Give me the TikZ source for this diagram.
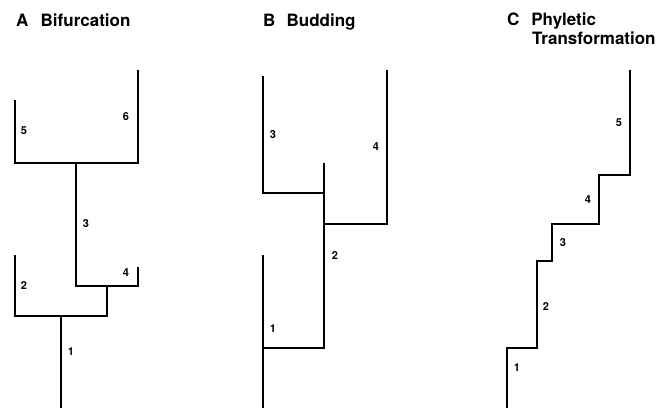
\documentclass[tikz,border=0pt]{standalone}
\usepackage{fontspec}
\setmainfont{TeX Gyre Heros}
\begin{document}
\begin{tikzpicture}[x=1pt,y=-1pt,
  branch/.style={line width=1.7pt,line cap=butt,line join=miter},
  title/.style={anchor=base west,inner sep=0pt,font=\fontsize{17}{20}\selectfont\bfseries},
  num/.style={inner sep=0pt,font=\fontsize{11}{13}\selectfont\bfseries}]
\useasboundingbox (0,0) rectangle (667,408);
% Titles
\node[title] (tA) at (16,26) {A\hspace{0.72em}Bifurcation};
\node[title] (tB) at (263,26) {B\hspace{0.66em}Budding};
\node[title] (tC) at (507,25) {C\hspace{0.7em}Phyletic};
\node[title] (tC2) at (532,44) {Transformation};
% Panel A
\coordinate (a5t) at (15,100);
\coordinate (a5b) at (15,163);
\coordinate (a6t) at (138,70);
\coordinate (a6b) at (138,163);
\coordinate (a3t) at (76,163);
\coordinate (a3b) at (76,286);
\coordinate (a4t) at (138,267);
\coordinate (a4b) at (138,286);
\coordinate (ajt) at (107,286);
\coordinate (ajb) at (107,316);
\coordinate (a2t) at (15,255);
\coordinate (a2b) at (15,316);
\coordinate (a1t) at (61,316);
\coordinate (a1b) at (61,408);
\draw[branch] (a5t) -- (a5b) -- (a6b) -- (a6t);
\draw[branch] (a3t) -- (a3b) -- (a4b) -- (a4t);
\draw[branch] (ajt) -- (ajb) -- (a2b) -- (a2t);
\draw[branch] (a1t) -- (a1b);
\node[num] (la5) at (24,131) {5};
\node[num] (la6) at (126,117) {6};
\node[num] (la3) at (86,224) {3};
\node[num] (la4) at (126,273) {4};
\node[num] (la2) at (24,286) {2};
\node[num] (la1) at (71,352) {1};
% Panel B
\coordinate (b3t) at (263,76);
\coordinate (b3b) at (263,193);
\coordinate (b2t) at (324,163);
\coordinate (b2j) at (324,193);
\coordinate (b2m) at (324,224);
\coordinate (b2b) at (324,348);
\coordinate (b4t) at (387,70);
\coordinate (b4b) at (387,224);
\coordinate (b1t) at (263,255);
\coordinate (b1m) at (263,348);
\coordinate (b1b) at (263,408);
\draw[branch] (b3t) -- (b3b) -- (b2j);
\draw[branch] (b2t) -- (b2b) -- (b1m);
\draw[branch] (b2m) -- (b4b) -- (b4t);
\draw[branch] (b1t) -- (b1b);
\node[num] (lb3) at (273,135) {3};
\node[num] (lb4) at (376,147) {4};
\node[num] (lb2) at (335,256) {2};
\node[num] (lb1) at (273,329) {1};
% Panel C
\coordinate (c0) at (507,408);
\coordinate (c1) at (507,348);
\coordinate (c2) at (537,348);
\coordinate (c3) at (537,261);
\coordinate (c4) at (552,261);
\coordinate (c5) at (552,224);
\coordinate (c6) at (599,224);
\coordinate (c7) at (599,175);
\coordinate (c8) at (630,175);
\coordinate (c9) at (630,70);
\draw[branch] (c0) -- (c1) -- (c2) -- (c3) -- (c4) -- (c5) -- (c6) -- (c7) -- (c8) -- (c9);
\node[num] (lc1) at (517,368) {1};
\node[num] (lc2) at (546,307) {2};
\node[num] (lc3) at (563,243) {3};
\node[num] (lc4) at (588,200) {4};
\node[num] (lc5) at (619,123) {5};
\end{tikzpicture}
\end{document}
